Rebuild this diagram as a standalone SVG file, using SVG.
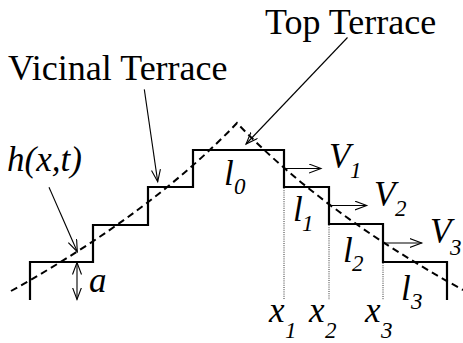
<svg xmlns="http://www.w3.org/2000/svg" width="463" height="343" viewBox="0 0 463 343">
<defs>
<style>
.big{font-size:36px}
.m{font-size:35px;font-style:italic}
.s{font-size:23px;font-style:italic}
.step{fill:none;stroke:#000;stroke-width:2.2;stroke-linejoin:miter}
.prof{fill:none;stroke:#000;stroke-width:2;stroke-dasharray:7 4.5}
.arr{fill:none;stroke:#000;stroke-width:1.1}
.dot{fill:none;stroke:#333;stroke-width:1;stroke-dasharray:1 1.2}
</style>
<marker id="ah" markerUnits="userSpaceOnUse" markerWidth="14" markerHeight="12" refX="12" refY="5" orient="auto">
<path d="M0,0.5 L12,5 L0,9.5" fill="none" stroke="#000" stroke-width="1.1"/>
</marker>
<marker id="ahs" markerUnits="userSpaceOnUse" markerWidth="14" markerHeight="12" refX="12" refY="5" orient="auto-start-reverse">
<path d="M0,0.5 L12,5 L0,9.5" fill="none" stroke="#000" stroke-width="1.1"/>
</marker>
</defs>
<g id="steps">
<path class="step" d="M30,300 V262 H93 V225 H148 V187 H193 V150 H284 V187 H329 V224 H383 V262 H447 V300"/>
</g>
<g id="profile">
<path class="prof" d="M11,291 Q151.6,212.7 237,123 Q322.4,212.7 463,290"/>
</g>
<g id="guides">
<line class="dot" x1="284" y1="188" x2="284" y2="300"/>
<line class="dot" x1="329" y1="225" x2="329" y2="300"/>
<line class="dot" x1="383" y1="263" x2="383" y2="300"/>
</g>
<g id="connectors">
<line class="arr" x1="347.5" y1="37.5" x2="246" y2="144" marker-end="url(#ah)"/>
<line class="arr" x1="144.3" y1="89.3" x2="157.7" y2="181.7" marker-end="url(#ah)"/>
<line class="arr" x1="49" y1="187.3" x2="77.3" y2="251.7" marker-end="url(#ah)"/>
<line class="arr" x1="77" y1="262.5" x2="77" y2="299.5" marker-start="url(#ahs)" marker-end="url(#ahs)"/>
<line class="arr" x1="284" y1="168.5" x2="321" y2="168.5" marker-end="url(#ah)"/>
<line class="arr" x1="329" y1="205.5" x2="366.7" y2="205.5" marker-end="url(#ah)"/>
<line class="arr" x1="383" y1="243" x2="421.7" y2="243" marker-end="url(#ah)"/>
</g>
<g id="labels" font-family="Liberation Serif, Times New Roman, serif" fill="#000">
<g id="label-top-terrace"><text class="big" x="265" y="34">Top Terrace</text></g>
<g id="label-vicinal-terrace"><text class="big" x="8" y="80">Vicinal Terrace</text></g>
<g id="label-h"><text class="m" x="7" y="171">h(x,t)</text></g>
<g id="label-a"><text class="m" x="89" y="292">a</text></g>
<g id="label-l0"><text class="m" x="224" y="185">l</text><text class="s" x="234" y="194">0</text></g>
<g id="label-l1"><text class="m" x="293" y="221">l</text><text class="s" x="302" y="231">1</text></g>
<g id="label-l2"><text class="m" x="343" y="262">l</text><text class="s" x="352" y="271">2</text></g>
<g id="label-l3"><text class="m" x="401" y="300">l</text><text class="s" x="411" y="309">3</text></g>
<g id="label-v1"><text class="m" x="329" y="168">V</text><text class="s" x="350" y="178">1</text></g>
<g id="label-v2"><text class="m" x="374" y="206">V</text><text class="s" x="395" y="216">2</text></g>
<g id="label-v3"><text class="m" x="430" y="243">V</text><text class="s" x="450" y="255">3</text></g>
<g id="label-x1"><text class="m" x="269" y="322">x</text><text class="s" x="285" y="338">1</text></g>
<g id="label-x2"><text class="m" x="309" y="322">x</text><text class="s" x="325" y="338">2</text></g>
<g id="label-x3"><text class="m" x="365" y="322">x</text><text class="s" x="381" y="338">3</text></g>
</g>
</svg>
